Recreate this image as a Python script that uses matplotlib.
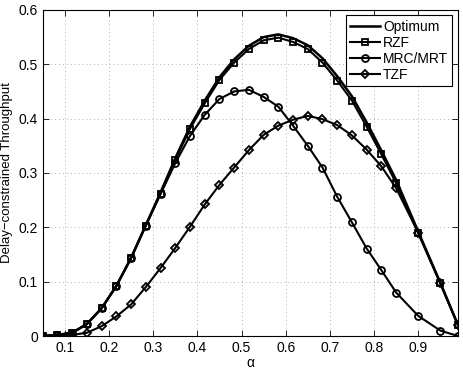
import matplotlib
matplotlib.use("Agg")
import matplotlib.pyplot as plt

alpha = [0.05, 0.0833, 0.1167, 0.15, 0.1833, 0.2167, 0.25, 0.2833, 0.3167, 0.35,
         0.3833, 0.4167, 0.45, 0.4833, 0.5167, 0.55, 0.5833, 0.6167, 0.65, 0.6833,
         0.7167, 0.75, 0.7833, 0.8167, 0.85, 0.9, 0.95, 0.99]

optimum = [0, 0.002, 0.006, 0.022, 0.051, 0.092, 0.144, 0.204, 0.264, 0.327,
           0.385, 0.433, 0.476, 0.509, 0.534, 0.550, 0.555, 0.548, 0.535, 0.511,
           0.478, 0.441, 0.393, 0.341, 0.287, 0.192, 0.098, 0.020]

rzf = [0, 0.002, 0.006, 0.022, 0.051, 0.092, 0.143, 0.203, 0.262, 0.324,
       0.381, 0.428, 0.471, 0.503, 0.528, 0.544, 0.549, 0.541, 0.528, 0.503,
       0.470, 0.433, 0.385, 0.334, 0.281, 0.189, 0.097, 0.020]

mrc = [0, 0.002, 0.006, 0.022, 0.051, 0.092, 0.143, 0.203, 0.261, 0.318,
       0.368, 0.407, 0.436, 0.450, 0.453, 0.440, 0.422, 0.387, 0.350, 0.310,
       0.256, 0.209, 0.161, 0.121, 0.080, 0.037, 0.010, 0.0]

tzf = [0, 0.0, 0.002, 0.006, 0.018, 0.036, 0.058, 0.090, 0.125, 0.162,
       0.201, 0.242, 0.278, 0.310, 0.342, 0.370, 0.387, 0.398, 0.405, 0.399,
       0.388, 0.369, 0.343, 0.312, 0.272, 0.190, 0.097, 0.020]

labels = ["Optimum", "RZF", "MRC/MRT", "TZF"]
xticks = [0.1, 0.2, 0.3, 0.4, 0.5, 0.6, 0.7, 0.8, 0.9]
yticks = [0, 0.1, 0.2, 0.3, 0.4, 0.5, 0.6]
ytick_labels = ["0", "0.1", "0.2", "0.3", "0.4", "0.5", "0.6"]

plt.rcParams['font.family'] = ['Liberation Sans', 'DejaVu Sans']

fig = plt.figure(figsize=(4.63, 3.71), dpi=100)
ax = fig.add_axes([0.0922, 0.0943, 0.897, 0.879])

lw = 1.5
ax.plot(alpha, optimum, color='black', lw=1.8, label=labels[0])
ax.plot(alpha, rzf, color='black', lw=lw, marker='s', ms=4.5, mfc='none', mew=1.3, label=labels[1])
ax.plot(alpha, mrc, color='black', lw=lw, marker='o', ms=5, mfc='none', mew=1.3, label=labels[2])
ax.plot(alpha, tzf, color='black', lw=lw, marker='D', ms=4.5, mfc='none', mew=1.3, label=labels[3])

ax.set_xlim(0.05, 0.99)
ax.set_ylim(0, 0.6)
ax.set_xticks(xticks)
ax.set_xticklabels([f"{v:.1f}" for v in xticks])
ax.set_yticks(yticks)
ax.set_yticklabels(ytick_labels)
ax.tick_params(direction='in', top=True, right=True, labelsize=10, length=4, width=0.6)
ax.grid(True, linestyle=(0, (1, 3)), color='#b0b0b0', lw=0.7)
for s in ax.spines.values():
    s.set_linewidth(0.8)

ax.set_xlabel("α", fontsize=10, labelpad=1)
ax.set_ylabel("Delay\u2212constrained Throughput", fontsize=9.5, labelpad=4)

leg = ax.legend(loc='upper right', fontsize=10, frameon=True, fancybox=False,
                edgecolor='black', framealpha=1, handlelength=2.2, borderpad=0.3,
                labelspacing=0.15, handletextpad=0.2, borderaxespad=0.4)
leg.get_frame().set_linewidth(0.8)

fig.savefig("out.png", dpi=100)
